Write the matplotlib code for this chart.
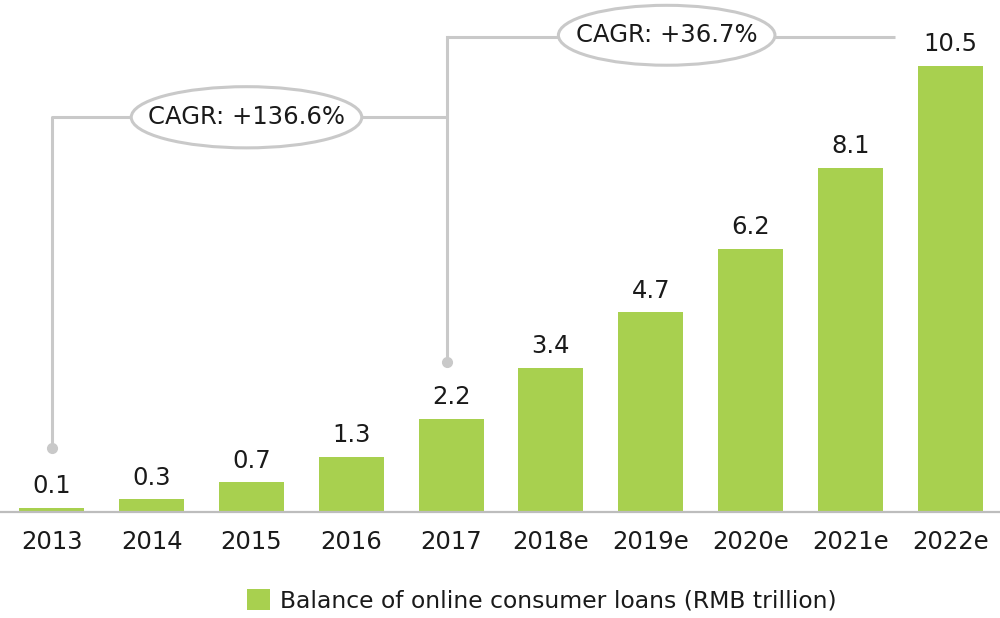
import numpy as np
import matplotlib
matplotlib.use("Agg")
import matplotlib.pyplot as plt
from matplotlib.patches import Ellipse

years = ["2013", "2014", "2015", "2016", "2017", "2018e", "2019e", "2020e", "2021e", "2022e"]
balance = [0.1, 0.3, 0.7, 1.3, 2.2, 3.4, 4.7, 6.2, 8.1, 10.5]
cagr_labels = ["CAGR: +136.6%", "CAGR: +36.7%"]

green = "#a8d04f"
grey = "#c9c9c9"
txt = "#1a1a1a"

plt.rcParams["font.family"] = ["DejaVu Sans"]

fig = plt.figure(figsize=(10, 6.18), dpi=100)
ax = fig.add_axes([0, 0.1715, 1, 0.8285])

x = np.arange(len(years))
bars = ax.bar(x, balance, width=0.65, color=green, zorder=2,
              label="Balance of online consumer loans (RMB trillion)")

for xi, v in zip(x, balance):
    ax.annotate(f"{v:.1f}", (xi, v), xytext=(0, 7), textcoords="offset points",
                ha="center", va="bottom", fontsize=17.5, color=txt)

ax.set_xlim(-0.52, 9.5)
ax.set_ylim(0, 12.05)
ax.set_xticks(x)
ax.set_xticklabels(years, fontsize=17.5, color=txt)
ax.tick_params(axis="x", length=0, pad=13)
ax.set_yticks([])
for s in ["top", "left", "right"]:
    ax.spines[s].set_visible(False)
ax.spines["bottom"].set_color("#bdbdbd")
ax.spines["bottom"].set_linewidth(1.6)

# CAGR brackets
lw = 2.2
# 2013 -> 2017
ax.plot([0, 0, 3.96], [1.5, 9.29, 9.29], color=grey, lw=lw, zorder=1, solid_capstyle="butt")
ax.plot([0], [1.5], "o", color=grey, ms=7, zorder=1)
# 2017 -> 2022e
ax.plot([3.96, 3.96], [3.53, 11.18], color=grey, lw=lw, zorder=1)
ax.plot([3.96, 8.45], [11.18, 11.18], color=grey, lw=lw, zorder=1, solid_capstyle="butt")
ax.plot([3.96], [3.53], "o", color=grey, ms=7, zorder=1)

for cx, cy, w, h, lab in [(1.95, 9.29, 2.31, 1.44, cagr_labels[0]),
                          (6.16, 11.22, 2.17, 1.41, cagr_labels[1])]:
    ax.add_patch(Ellipse((cx, cy), w, h, facecolor="white", edgecolor=grey, lw=lw, zorder=3,
                         clip_on=False))
    ax.text(cx, cy, lab, ha="center", va="center", fontsize=17.5, color=txt, zorder=4)

fig.legend(handles=[bars], loc="center", bbox_to_anchor=(0.542, 0.0275), frameon=False,
           fontsize=16.9, handlelength=0.95, handleheight=0.95, handletextpad=0.45,
           labelcolor=txt)

fig.savefig("out.png", dpi=100)
